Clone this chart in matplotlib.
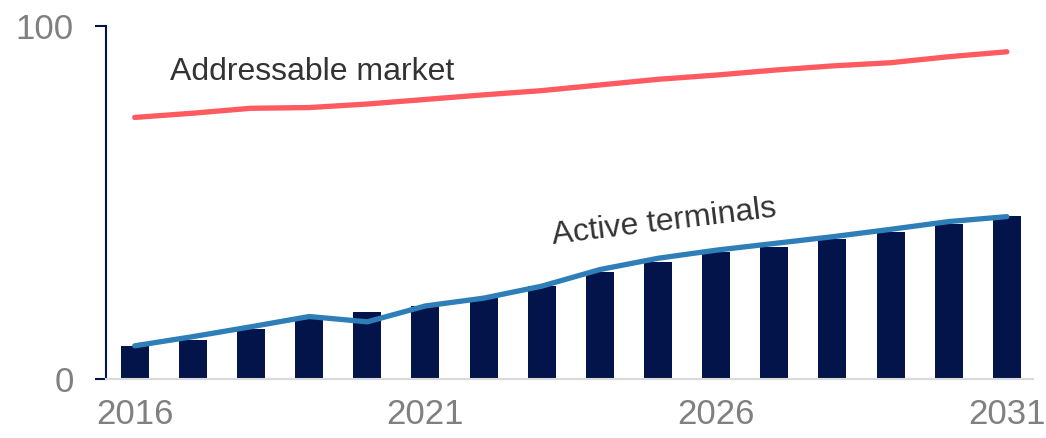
import matplotlib.pyplot as plt
import numpy as np

# --- フォント設定 ---
plt.rcParams['font.family'] = ['Liberation Sans', 'DejaVu Sans']

# --- データ ---
years = list(range(2016, 2032))
terminals_bars = [9.4, 11.0, 14.2, 17.5, 18.9, 20.7, 22.9, 26.3, 30.4, 33.2, 36.1, 37.5, 39.6, 41.7, 43.9, 46.2]
terminals_line = [9.4, 12.0, 14.8, 17.7, 16.2, 20.7, 22.9, 26.3, 31.0, 34.2, 36.5, 38.4, 40.3, 42.4, 44.6, 46.0]
market_line = [74.1, 75.3, 76.7, 76.9, 77.9, 79.2, 80.5, 81.7, 83.3, 84.9, 86.1, 87.5, 88.7, 89.6, 91.3, 92.7]
xtick_years = [2016, 2021, 2026, 2031]
ytick_vals = [0, 100]

NAVY = '#02144A'
BLUE = '#2E7EB8'
RED = '#FF5A60'
GREY = '#808080'

fig = plt.figure(figsize=(10.46, 4.38), dpi=100)
ax = fig.add_axes([0.101, 0.1347, 0.8866, 0.8059])

ax.bar(years, terminals_bars, width=0.48, color=NAVY, zorder=2)
ax.plot(years, terminals_line, color=BLUE, linewidth=3.8, solid_capstyle='round', zorder=3)
ax.plot(years, market_line, color=RED, linewidth=3.8, solid_capstyle='round', zorder=3)

# ラベル
ax.text(2016.6, 84.7, 'Addressable market', fontsize=23, color='#333333',
        ha='left', va='baseline')
ax.text(2023.19, 38.2, 'Active terminals', fontsize=23, color='#333333',
        ha='left', va='baseline', rotation=7, rotation_mode='anchor')

ax.set_xlim(2015.5, 2031.45)
ax.set_ylim(0, 100)
ax.set_xticks(xtick_years)
ax.set_xticklabels([str(y) for y in xtick_years])
ax.set_yticks(ytick_vals)

for s in ['top', 'right']:
    ax.spines[s].set_visible(False)
ax.spines['left'].set_color(NAVY)
ax.spines['left'].set_linewidth(1.5)
ax.spines['bottom'].set_color('#D9D9D9')
ax.spines['bottom'].set_linewidth(1.5)

ax.tick_params(axis='x', length=0, pad=14, labelsize=25, labelcolor=GREY)
ax.tick_params(axis='y', length=8, width=1.5, color=NAVY, pad=15, labelsize=25, labelcolor=GREY)

fig.savefig('out.png', dpi=100)
